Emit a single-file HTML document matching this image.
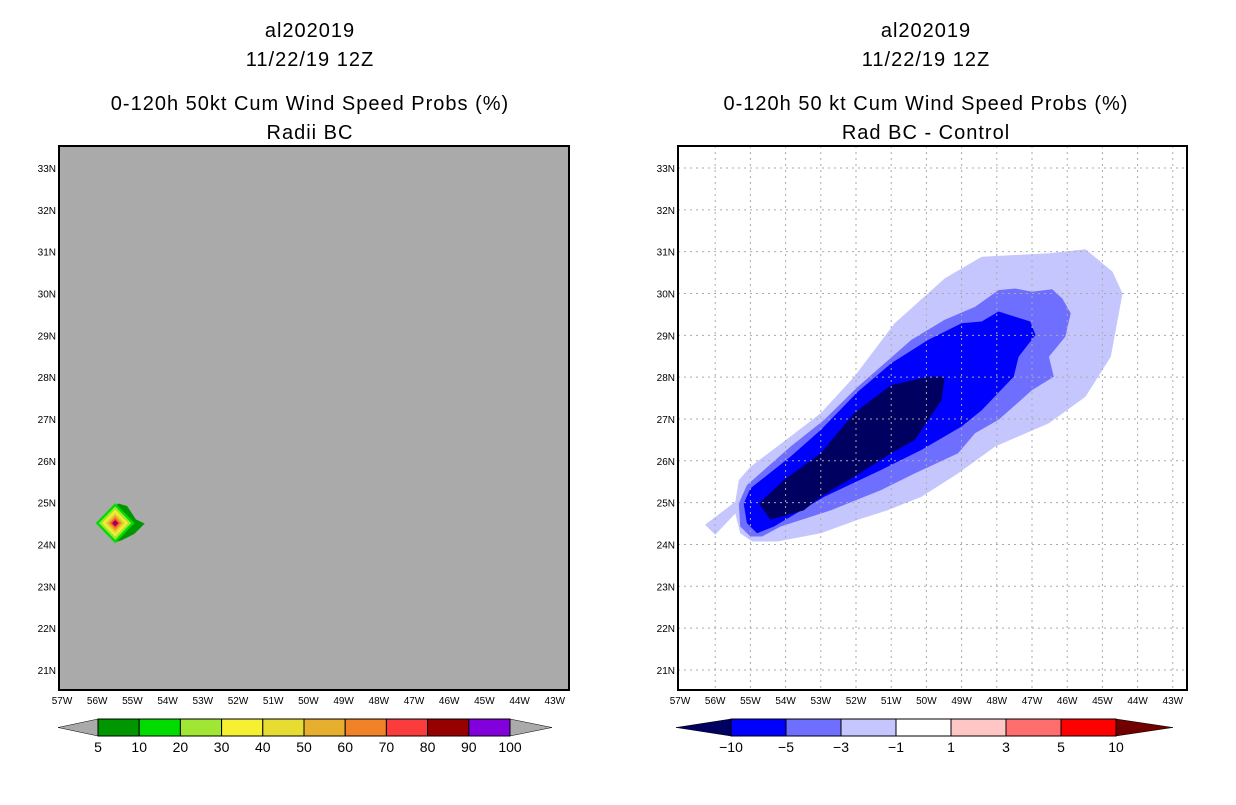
<!DOCTYPE html>
<html><head><meta charset="utf-8"><style>
body{margin:0;background:#fff;width:1236px;height:800px;overflow:hidden;font-family:"Liberation Sans",sans-serif}
svg text{font-family:"Liberation Sans",sans-serif}
</style></head><body>
<svg id="chart" width="1236" height="800" xmlns="http://www.w3.org/2000/svg">
<g id="titles"></g>
<g id="left"></g>
<g id="right"></g>
</svg>
<script>
const NS="http://www.w3.org/2000/svg";
const lonTicks=[57,56,55,54,53,52,51,50,49,48,47,46,45,44,43];
const latTicks=[33,32,31,30,29,28,27,26,25,24,23,22,21];
// left blob: center and diamond levels (radius in degrees)
const blobCenter=[55.49,24.51];
const blobRadii=[0.48,0.4,0.32,0.26,0.2,0.15,0.11,0.07,0.04];
const blobColors=["#00dc00","#a0e632","#f5f032","#e6dc32","#e6af2d","#f08228","#fa3c3c","#960000","#8200dc"];
const blobOuter=[[55.98,24.5],[55.4,24.98],[55.15,24.92],[54.9,24.6],[54.65,24.5],[54.95,24.25],[55.3,24.1],[55.5,24.05]];
// right: contour polygons [lon, lat]
const lvlM1=[[56.29,24.47],[55.43,25.02],[55.33,25.54],[55.0,25.86],[53.86,26.58],[53.0,27.14],[52.05,28.01],[50.9,29.29],[49.48,30.36],[48.43,30.88],[46.52,30.96],[45.48,31.06],[44.71,30.52],[44.43,30.0],[44.76,28.49],[45.48,27.53],[46.52,26.9],[48.05,26.34],[49.1,25.7],[50.14,25.14],[51.1,24.82],[51.95,24.59],[53.0,24.27],[54.24,24.07],[54.95,24.07],[55.29,24.27],[55.43,24.74],[56.0,24.23]];
const lvlM3=[[55.33,24.98],[55.1,25.42],[53.86,26.34],[52.9,26.98],[51.95,27.77],[50.43,28.89],[49.48,29.37],[48.62,29.68],[47.95,30.08],[47.48,30.12],[47.0,30.04],[46.43,30.1],[46.14,29.88],[45.9,29.53],[46.05,28.97],[46.52,28.49],[46.38,28.01],[47.0,27.69],[47.95,26.98],[48.62,26.66],[49.1,26.18],[50.33,25.7],[51.29,25.3],[52.71,24.82],[54.14,24.43],[54.67,24.19],[55.0,24.19],[55.29,24.43]];
const lvlM5=[[55.19,24.98],[55.0,25.34],[53.86,26.1],[53.0,26.74],[51.95,27.65],[51.0,28.33],[49.95,28.89],[49.0,29.29],[48.43,29.33],[47.95,29.57],[47.05,29.33],[46.9,29.01],[47.38,28.49],[47.52,28.01],[48.43,27.21],[49.0,26.82],[50.14,26.26],[51.29,25.78],[52.9,25.14],[54.33,24.43],[54.81,24.27],[55.1,24.51]];
const lvlM10=[[54.76,24.98],[54.05,25.54],[53.0,26.18],[52.05,27.14],[51.0,27.81],[49.95,28.01],[49.48,28.01],[49.57,27.45],[50.33,26.5],[51.0,26.18],[52.05,25.62],[53.0,25.14],[53.48,24.82],[54.43,24.59]];
const leftLabels=["5","10","20","30","40","50","60","70","80","90","100"];
const leftBarColors=["#009600","#00dc00","#a0e632","#f5f032","#e6dc32","#e6af2d","#f08228","#fa3c3c","#960000","#8200dc"];
const rightLabels=["-10","-5","-3","-1","1","3","5","10"];
const rightBarColors=["#0000ff","#6e6eff","#c6c6ff","#ffffff","#ffc6c6","#ff6e6e","#ff0000"];

function el(tag,attrs,parent,txt){const e=document.createElementNS(NS,tag);for(const k in attrs)e.setAttribute(k,attrs[k]);if(txt!==undefined)e.textContent=txt;parent.appendChild(e);return e;}
const yLat=lat=>168+(33-lat)*41.83;
function xLonL(lon){return 62+(57-lon)*35.2;}
function xLonR(lon){return 680+(57-lon)*35.2;}

const T=document.getElementById('titles');
function titles(cx,l3,l4){
  const lines=[["al202019",30],["11/22/19 12Z",59],[l3,103],[l4,132]];
  lines.forEach((l,i)=>{const t=el('text',{x:cx,y:l[1]+7,'text-anchor':'middle','font-size':'20','fill':'#000','letter-spacing':'1'},T,l[0]);
    
    });
}
titles(310,"0-120h 50kt Cum Wind Speed Probs (%)","Radii BC");
titles(926,"0-120h 50 kt Cum Wind Speed Probs (%)","Rad BC - Control");

function axes(g,x0,x1,xf,grid,name){
  const bg=el('rect',{x:x0,y:146,width:x1-x0,height:544,fill:grid?'#fff':'#aaaaaa'},g);
  
  
  return bg;
}
function frame(g,x0,x1,xf,grid,name){
  if(grid){
    lonTicks.forEach(l=>{const x=xf(l);if(x>x0+2&&x<x1-2){const ln=el('line',{x1:x,x2:x,y1:146,y2:690,stroke:'#aaa','stroke-dasharray':'2,4'},g);}});
    latTicks.forEach(l=>{const y=yLat(l);const ln=el('line',{x1:x0,x2:x1,y1:y,y2:y,stroke:'#aaa','stroke-dasharray':'2,4'},g);});
  }
  const f=el('rect',{x:x0,y:146,width:x1-x0,height:544,fill:'none',stroke:'#000','stroke-width':'2'},g);
  
  
  lonTicks.forEach(l=>{const t=el('text',{x:xf(l),y:704,'text-anchor':'middle','font-size':'10'},g,l+'W');
    
    });
  latTicks.forEach(l=>{const t=el('text',{x:x0-3,y:yLat(l)+4,'text-anchor':'end','font-size':'10'},g,l+'N');
    
    });
}
function colorbar(g,x0,x1,tipL,tipR,colors,labels,cl,cr,name){
  const w=(x1-x0)/colors.length;
  const a=el('polygon',{points:`${tipL},727.5 ${x0},719 ${x0},736`,fill:cl,stroke:'#000','stroke-width':'0.5'},g);
  
  const b=el('polygon',{points:`${tipR},727.5 ${x1},719 ${x1},736`,fill:cr,stroke:'#000','stroke-width':'0.5'},g);
  
  colors.forEach((c,i)=>{const r=el('rect',{x:x0+i*w,y:719,width:w,height:17,fill:c,stroke:'#000','stroke-width':'1'},g);
    });
  labels.forEach((s,i)=>{const t=el('text',{x:x0+i*w,y:752,'text-anchor':'middle','font-size':'14'},g,s.replace('-','\u2212'));
    });
}
// left panel
const L=document.getElementById('left');
axes(L,59,569,xLonL,false,'left');
const pts=arr=>arr.map(p=>xLonL(p[0]).toFixed(1)+','+yLat(p[1]).toFixed(1)).join(' ');
const ob=el('polygon',{points:pts(blobOuter),fill:'#009600'},L);

blobRadii.forEach((r,i)=>{const cx=blobCenter[0],cy=blobCenter[1];const ry=r*1.0,rx=r*1.15;
  const p=el('polygon',{points:pts([[cx+rx,cy],[cx,cy+ry],[cx-rx,cy],[cx,cy-ry]]),fill:blobColors[i]},L);
  });
frame(L,59,569,xLonL,false,'left');
colorbar(L,98,510,58,552,leftBarColors,leftLabels,'#aaaaaa','#aaaaaa','left-colorbar');
// right panel
const R=document.getElementById('right');
axes(R,678,1187,xLonR,true,'right');
const ptsR=arr=>arr.map(p=>xLonR(p[0]).toFixed(1)+','+yLat(p[1]).toFixed(1)).join(' ');
[[lvlM1,'#c6c6ff','diff-minus1'],[lvlM3,'#6e6eff','diff-minus3'],[lvlM5,'#0000ff','diff-minus5'],[lvlM10,'#000060','diff-minus10']].forEach(c=>{
  const p=el('polygon',{points:ptsR(c[0]),fill:c[1]},R);
  
  });
// grid over fill
frame(R,678,1187,xLonR,true,'right');
colorbar(R,731,1116,676,1173,rightBarColors,rightLabels,'#000060','#700000','right-colorbar');
</script>
</body></html>
